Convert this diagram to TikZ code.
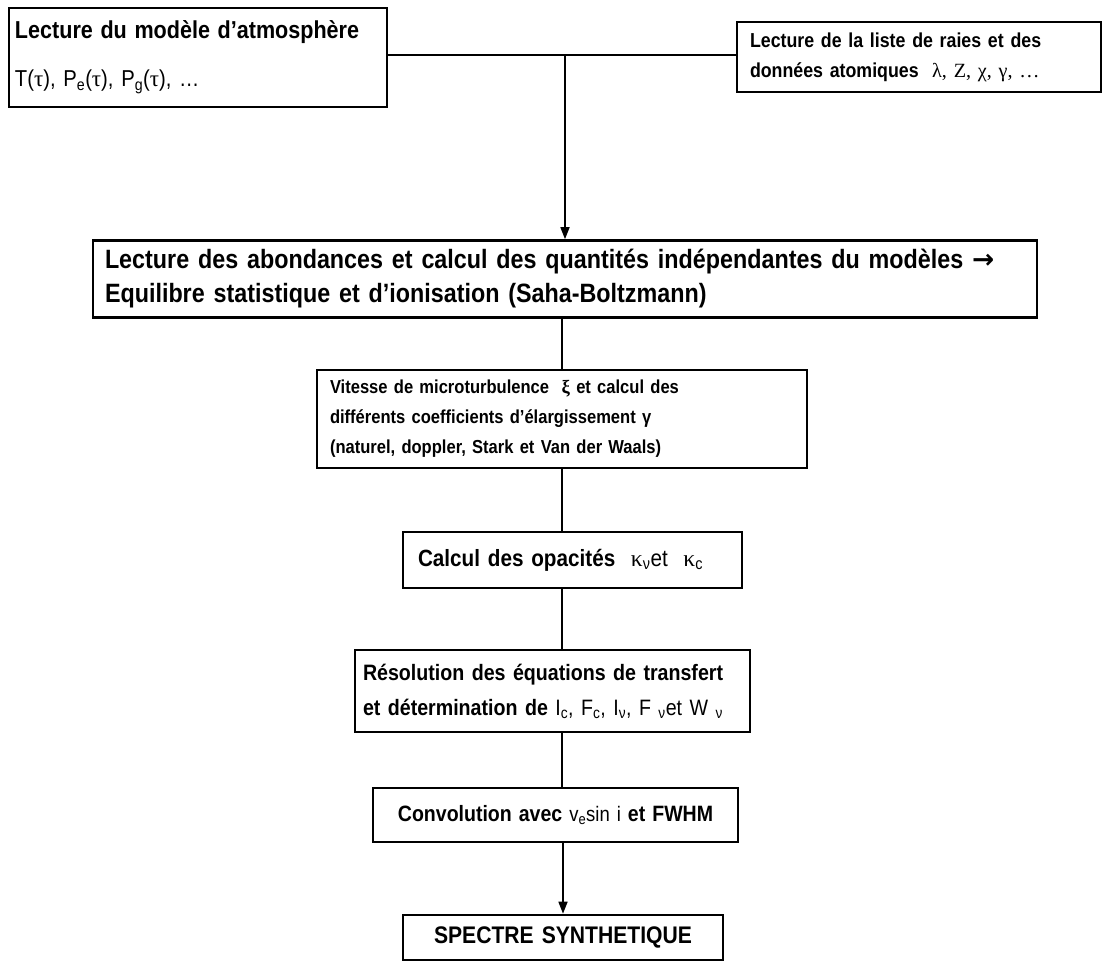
\documentclass[tikz,border=0pt]{standalone}
\usepackage{fontspec}
\setmainfont{Liberation Sans}[FakeStretch=0.88]
\newfontfamily\symf{Liberation Serif}
\newfontfamily\arrf{DejaVu Sans}
\usetikzlibrary{arrows.meta}
\newcommand{\sbs}[1]{\textsubscript{#1}}
\begin{document}
\begin{tikzpicture}[x=1pt,y=-1pt]
\useasboundingbox (0,0) rectangle (1109,962);
\tikzset{
  box/.style={draw, line width=2.6pt, rectangle, inner ysep=0pt, align=left},
  conn/.style={line width=1.5pt},
  arr/.style={line width=1.5pt, -{Triangle[length=12pt,width=9pt]}},
}
\node[box, minimum width=378pt, minimum height=99pt, text width=366pt, inner xsep=6pt,
      font=\fontsize{23}{48}\selectfont] (b1) at (198,57.5)
  {{\fontsize{24.5}{48}\selectfont\bfseries Lecture du modèle d’atmosphère}\\
   T({\symf τ}), P\sbs{e}({\symf τ}), P\sbs{g}({\symf τ}), …};
\node[box, minimum width=364pt, minimum height=70pt, text width=338pt, inner xsep=13pt,
      font=\fontsize{20.2}{30}\selectfont\bfseries] (b2) at (919,57)
  {Lecture de la liste de raies et des\\
   données atomiques~~{\mdseries\symf λ, Z, χ, γ, …}};
\node[box, minimum width=944pt, minimum height=77pt, text width=920pt, inner xsep=12pt,
      font=\fontsize{26.5}{34}\selectfont\bfseries] (b3) at (565,279)
  {Lecture des abondances et calcul des quantités indépendantes du modèles {\arrf\bfseries →}\\
   Equilibre statistique et d’ionisation (Saha-Boltzmann)};
\node[box, minimum width=490pt, minimum height=98pt, text width=464pt, inner xsep=13pt,
      font=\fontsize{18.8}{30}\selectfont\bfseries] (b4) at (562,419)
  {Vitesse de microturbulence~ {\symf\bfseries ξ} et calcul des\\
   différents coefficients d’élargissement γ\\
   (naturel, doppler, Stark et Van der Waals)};
\node[box, minimum width=339pt, minimum height=56pt, text width=309pt, inner xsep=15pt,
      font=\fontsize{23.5}{28}\selectfont] (b5) at (572.5,560)
  {\textbf{Calcul des opacités}~~{\symf κ}\sbs{ν}et~~{\symf κ}\sbs{c}};
\node[box, minimum width=395pt, minimum height=82pt, text width=379pt, inner xsep=8pt,
      font=\fontsize{22.3}{35}\selectfont] (b6) at (552.5,691)
  {\textbf{Résolution des équations de transfert}\\
   \textbf{et détermination de} I\sbs{c}, F\sbs{c}, I\sbs{ν}, F \sbs{ν}et W \sbs{ν}};
\node[box, minimum width=365pt, minimum height=54pt, text width=345pt, inner xsep=10pt, align=center,
      font=\fontsize{21}{28}\selectfont] (b7) at (555.5,815)
  {{\fontsize{22.2}{28}\selectfont\bfseries Convolution avec} v\sbs{e}sin i {\fontsize{22.2}{28}\selectfont\bfseries et FWHM}};
\node[box, minimum width=320pt, minimum height=45pt, text width=300pt, inner xsep=10pt, align=center,
      font=\fontsize{24}{28}\selectfont\bfseries] (b8) at (563,937.5)
  {SPECTRE SYNTHETIQUE};
\coordinate (j) at (565,55);
\draw[conn] (b1.east |- j) -- (j) -- (b2.west |- j);
\draw[arr] (j) -- (b3.north -| j);
\draw[conn] (b3.south -| b4.north) -- (b4.north);
\draw[conn] (b4.south) -- (b5.north -| b4.south);
\draw[conn] (b5.south -| b4.south) -- (b6.north -| b4.south);
\draw[conn] (b6.south -| b4.south) -- (b7.north -| b4.south);
\draw[arr] (b7.south -| b8.north) -- (b8.north);
\end{tikzpicture}
\end{document}
